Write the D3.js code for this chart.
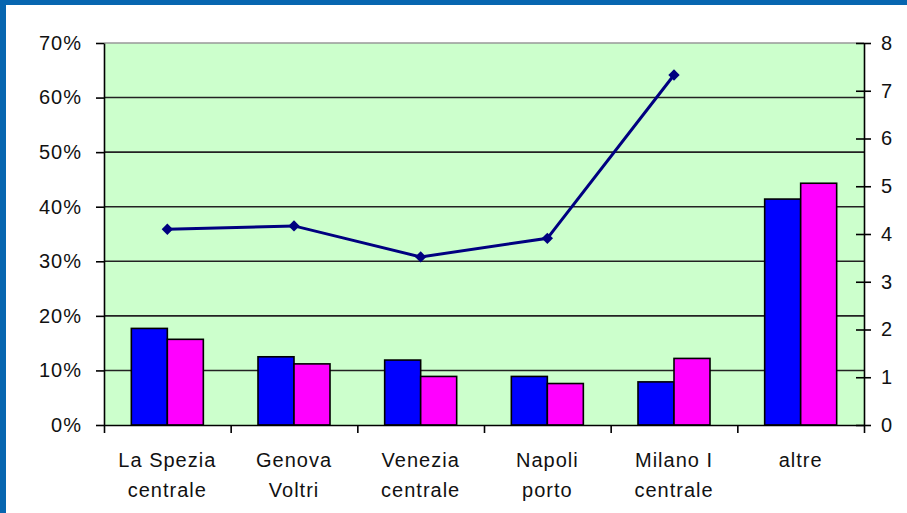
<!DOCTYPE html>
<html><head><meta charset="utf-8">
<script src="https://cdn.jsdelivr.net/npm/d3@7"></script>
<style>html,body{margin:0;padding:0;background:#fff;}svg{display:block;}</style>
</head><body>
<script>
const categories = [["La Spezia","centrale"],["Genova","Voltri"],["Venezia","centrale"],["Napoli","porto"],["Milano I","centrale"],["altre"]];
const seriesBlue = [17.7, 12.5, 11.9, 8.9, 7.9, 41.4];
const seriesPink = [15.7, 11.2, 8.9, 7.6, 12.2, 44.3];
const lineValues = [4.10, 4.17, 3.52, 3.91, 7.33];
const leftTicks = [0,10,20,30,40,50,60,70];
const rightTicks = [0,1,2,3,4,5,6,7,8];

const W = 907, H = 513;
const svg = d3.select("body").append("svg").attr("width", W).attr("height", H);
// frame
svg.append("rect").attr("x",0).attr("y",0).attr("width",W).attr("height",5).attr("fill","#0766b0");
svg.append("rect").attr("x",0).attr("y",0).attr("width",6).attr("height",H).attr("fill","#0766b0");

const m = {l:104, r:864, t:43, b:425};
const x = d3.scaleBand().domain(d3.range(categories.length)).range([m.l, m.r]).paddingInner(0).paddingOuter(0);
const xs = d3.scaleBand().domain([0,1]).range([0, 72]);
const yL = d3.scaleLinear().domain([0,70]).range([m.b, m.t]);
const yR = d3.scaleLinear().domain([0,8]).range([m.b, m.t]);

svg.append("rect").attr("x",m.l).attr("y",m.t).attr("width",m.r-m.l).attr("height",m.b-m.t).attr("fill","#ccffcc");
// gridlines
svg.append("g").selectAll("line").data(leftTicks.slice(1)).join("line")
  .attr("x1",m.l).attr("x2",m.r).attr("y1",d=>yL(d)).attr("y2",d=>yL(d))
  .attr("stroke", d=> d===70 ? "#999" : "#222").attr("stroke-width",1.6);

const fontFam = "'Liberation Sans', Arial, sans-serif";
// bars
const groups = svg.append("g").selectAll("g").data(categories).join("g")
  .attr("transform",(d,i)=>`translate(${x(i)+x.bandwidth()/2-36},0)`);
groups.append("rect").attr("x",xs(0)).attr("width",xs.bandwidth())
  .attr("y",(d,i)=>yL(seriesBlue[i])).attr("height",(d,i)=>m.b-yL(seriesBlue[i]))
  .attr("fill","#0000ff").attr("stroke","#000").attr("stroke-width",1.6);
groups.append("rect").attr("x",xs(1)).attr("width",xs.bandwidth())
  .attr("y",(d,i)=>yL(seriesPink[i])).attr("height",(d,i)=>m.b-yL(seriesPink[i]))
  .attr("fill","#ff00ff").attr("stroke","#000").attr("stroke-width",1.6);

// axes
const axL = svg.append("g").attr("transform",`translate(${m.l},0)`)
  .call(d3.axisLeft(yL).tickValues(leftTicks).tickFormat(d=>d+"%").tickSize(8).tickSizeOuter(0));
const axR = svg.append("g").attr("transform",`translate(${m.r},0)`)
  .call(d3.axisRight(yR).tickValues(rightTicks).tickSize(7).tickSizeOuter(0));
axR.selectAll(".tick line").attr("x1",-8).attr("x2",7);
const axB = svg.append("g").attr("transform",`translate(0,${m.b})`)
  .call(d3.axisBottom(d3.scaleLinear().domain([0,6]).range([m.l,m.r])).tickValues(d3.range(0,7)).tickSize(8).tickFormat("").tickSizeOuter(0));
[axL,axR,axB].forEach(a=>{
  a.select(".domain").attr("stroke","#000").attr("stroke-width",1.6);
  a.selectAll(".tick line").attr("stroke","#000").attr("stroke-width",1.6);
  a.selectAll("text").attr("font-family",fontFam).attr("font-size",20).attr("fill","#111").style("letter-spacing","1px");
});
axL.selectAll("text").attr("x",-22);
axR.selectAll("text").attr("x",17);

// x labels
const lbl = svg.append("g").selectAll("text").data(categories).join("text")
  .attr("x",(d,i)=>x(i)+x.bandwidth()/2).attr("y",467)
  .attr("text-anchor","middle").attr("font-family",fontFam).attr("font-size",20)
  .attr("fill","#111").style("letter-spacing","1px");
lbl.selectAll("tspan").data(d=>d).join("tspan")
  .attr("x",function(){return this.parentNode.getAttribute("x");})
  .attr("dy",(d,i)=>i===0?0:30).text(d=>d);

// line
const lx = i => x(i)+x.bandwidth()/2;
svg.append("path").datum(lineValues)
  .attr("d", d3.line().x((d,i)=>lx(i)).y(d=>yR(d)))
  .attr("fill","none").attr("stroke","#000080").attr("stroke-width",3);
svg.append("g").selectAll("path").data(lineValues).join("path")
  .attr("transform",(d,i)=>`translate(${lx(i)},${yR(d)}) rotate(45)`)
  .attr("d", d3.symbol().type(d3.symbolSquare).size(64))
  .attr("fill","#000080");
</script>
</body></html>
